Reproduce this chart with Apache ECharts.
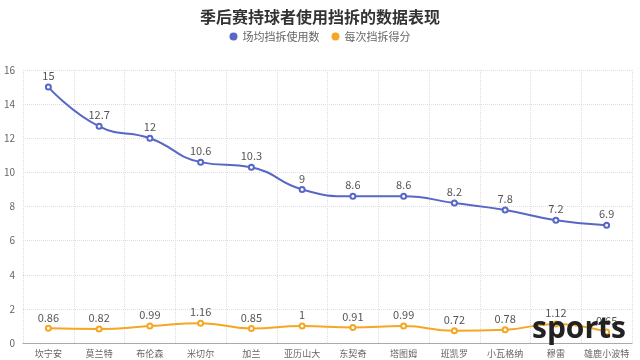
<!DOCTYPE html>
<html><head><meta charset="utf-8">
<script src="https://cdn.jsdelivr.net/npm/echarts@6/dist/echarts.min.js"></script>
<style>html,body{margin:0;padding:0;background:#fff}#c{width:640px;height:360px}</style>
</head><body><div id="c"></div>
<script>
const categories = ['坎宁安','莫兰特','布伦森','米切尔','加兰','亚历山大','东契奇','塔图姆','班凯罗','小瓦格纳','穆雷','雄鹿小波特'];
const usesPerGame = [15, 12.7, 12, 10.6, 10.3, 9, 8.6, 8.6, 8.2, 7.8, 7.2, 6.9];
const pointsPerUse = [0.86, 0.82, 0.99, 1.16, 0.85, 1, 0.91, 0.99, 0.72, 0.78, 1.12, 0.65];
const seriesNames = ['场均挡拆使用数', '每次挡拆得分'];
const font = '"Noto Sans CJK SC", "Microsoft YaHei", sans-serif';
const chart = echarts.init(document.getElementById('c'));
chart.setOption({
  animation: false,
  textStyle: {fontFamily: font},
  title: {text: '季后赛持球者使用挡拆的数据表现', left: 'center', top: 4,
    textStyle: {fontSize: 16, fontWeight: 'bold', color: '#333', fontFamily: font}},
  legend: {top: 26, left: 'center', itemWidth: 8, itemHeight: 8, itemGap: 12, icon: 'circle',
    itemStyle: {borderWidth: 0},
    textStyle: {fontSize: 11, color: '#666', fontFamily: font}},
  grid: {left: 23, right: 8, top: 70, bottom: 17, containLabel: false},
  xAxis: {type: 'category', data: categories, boundaryGap: true,
    axisLine: {lineStyle: {color: '#aaa'}}, axisTick: {show: false},
    axisLabel: {color: '#666', fontSize: 9, margin: 6, interval: 0, fontFamily: font},
    splitLine: {show: true, interval: 0, lineStyle: {type: 'dotted', color: '#ddd'}}},
  yAxis: {type: 'value', min: 0, max: 16, interval: 2,
    axisLine: {show: false}, axisTick: {show: false},
    axisLabel: {color: '#666', fontSize: 10, margin: 8},
    splitLine: {lineStyle: {type: 'dotted', color: '#ddd'}}},
  series: [
    {name: seriesNames[0], type: 'line', smooth: true, data: usesPerGame, color: '#5767c6',
     symbol: 'emptyCircle', symbolSize: 5, lineStyle: {width: 2},
     itemStyle: {borderColor: '#333', borderWidth: 1.5},
     label: {show: true, position: 'top', color: '#555', fontSize: 11, distance: 2}},
    {name: seriesNames[1], type: 'line', smooth: true, data: pointsPerUse, color: '#f5a623',
     symbol: 'emptyCircle', symbolSize: 5, lineStyle: {width: 2},
     itemStyle: {borderColor: '#333', borderWidth: 1.5},
     label: {show: true, position: 'top', color: '#555', fontSize: 11, distance: 2}}
  ],
  graphic: [{type: 'text', right: 14, bottom: 16, z: 100,
    style: {text: 'sports', font: 'bold 30px "Open Sans", "DejaVu Sans", sans-serif', fill: '#222'}}]
});
</script></body></html>
